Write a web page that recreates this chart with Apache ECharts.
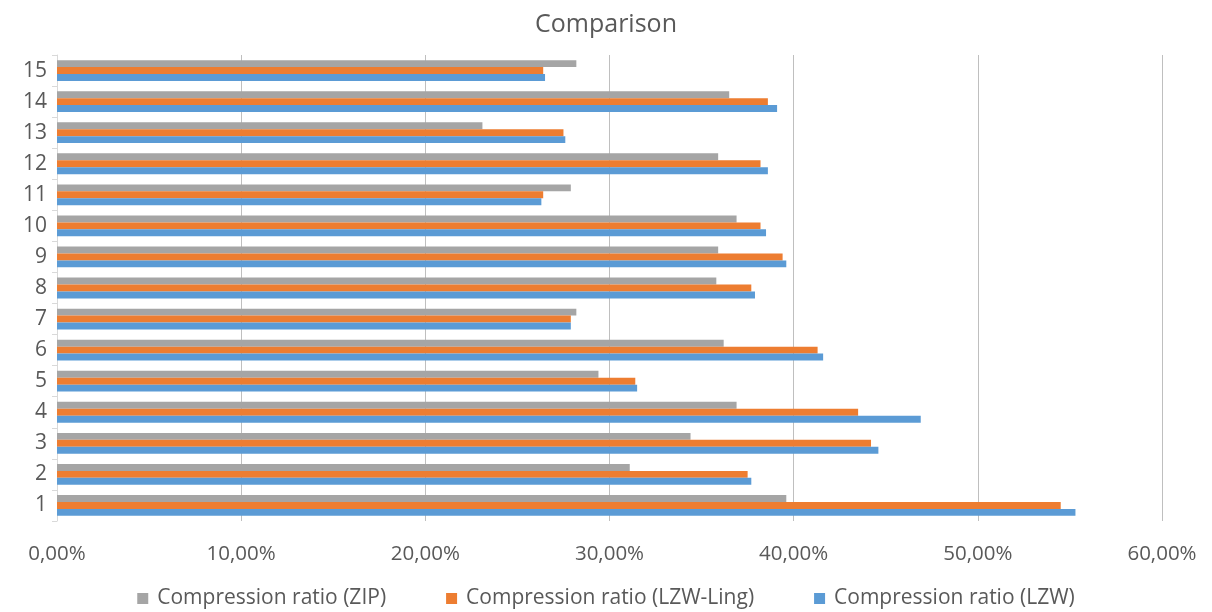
<!DOCTYPE html>
<html><head><meta charset="utf-8">
<script src="https://cdn.jsdelivr.net/npm/echarts@6/dist/echarts.min.js"></script>
<style>html,body{margin:0;padding:0;background:#fff}#c{width:1212px;height:612px}</style>
</head><body><div id="c"></div>
<script>
const categories = ['1','2','3','4','5','6','7','8','9','10','11','12','13','14','15'];
const lzw     = [55.3, 37.7, 44.6, 46.9, 31.5, 41.6, 27.9, 37.9, 39.6, 38.5, 26.3, 38.6, 27.6, 39.1, 26.5];
const lzwLing = [54.5, 37.5, 44.2, 43.5, 31.4, 41.3, 27.9, 37.7, 39.4, 38.2, 26.4, 38.2, 27.5, 38.6, 26.4];
const zip     = [39.6, 31.1, 34.4, 36.9, 29.4, 36.2, 28.2, 35.8, 35.9, 36.9, 27.9, 35.9, 23.1, 36.5, 28.2];
const xTicks = [0, 10, 20, 30, 40, 50, 60];

const font = 'Open Sans';
const chart = echarts.init(document.getElementById('c'));
const fmt = v => v.toFixed(2).replace('.', ',') + '%';
chart.setOption({
  animation: false,
  title: { text: 'Comparison', left: 'center', top: 7,
    textStyle: { fontFamily: font, fontSize: 25, fontWeight: 'normal', color: '#595959' } },
  grid: { left: 57, right: 50, top: 55, bottom: 91, containLabel: false },
  legend: {
    data: ['Compression ratio (ZIP)', 'Compression ratio (LZW-Ling)', 'Compression ratio (LZW)'],
    bottom: -2, left: 'center', itemWidth: 11, itemHeight: 11, itemGap: 60,
    icon: 'rect',
    textStyle: { fontFamily: font, fontSize: 21, color: '#595959', padding: [0, 0, 0, 4] }
  },
  xAxis: {
    type: 'value', min: xTicks[0], max: xTicks[xTicks.length - 1], interval: 10,
    axisLine: { show: false }, axisTick: { show: false },
    splitLine: { lineStyle: { color: '#bfbfbf', width: 1 } },
    axisLabel: { formatter: fmt, fontFamily: font, fontSize: 20.5, color: '#595959', margin: 23 }
  },
  yAxis: {
    type: 'category', data: categories,
    axisLine: { lineStyle: { color: '#d9d9d9' } },
    axisTick: { show: true, length: 5, lineStyle: { color: '#d9d9d9' } },
    axisLabel: { fontFamily: font, fontSize: 21, color: '#595959', margin: 10 }
  },
  series: [
    { name: 'Compression ratio (ZIP)', type: 'bar', data: zip, itemStyle: { color: '#a5a5a5' },
      barGap: '0%', barCategoryGap: '33%' },
    { name: 'Compression ratio (LZW-Ling)', type: 'bar', data: lzwLing, itemStyle: { color: '#ed7d31' },
      barGap: '0%', barCategoryGap: '33%' },
    { name: 'Compression ratio (LZW)', type: 'bar', data: lzw, itemStyle: { color: '#5b9bd5' },
      barGap: '0%', barCategoryGap: '33%' }
  ]
});
</script></body></html>
